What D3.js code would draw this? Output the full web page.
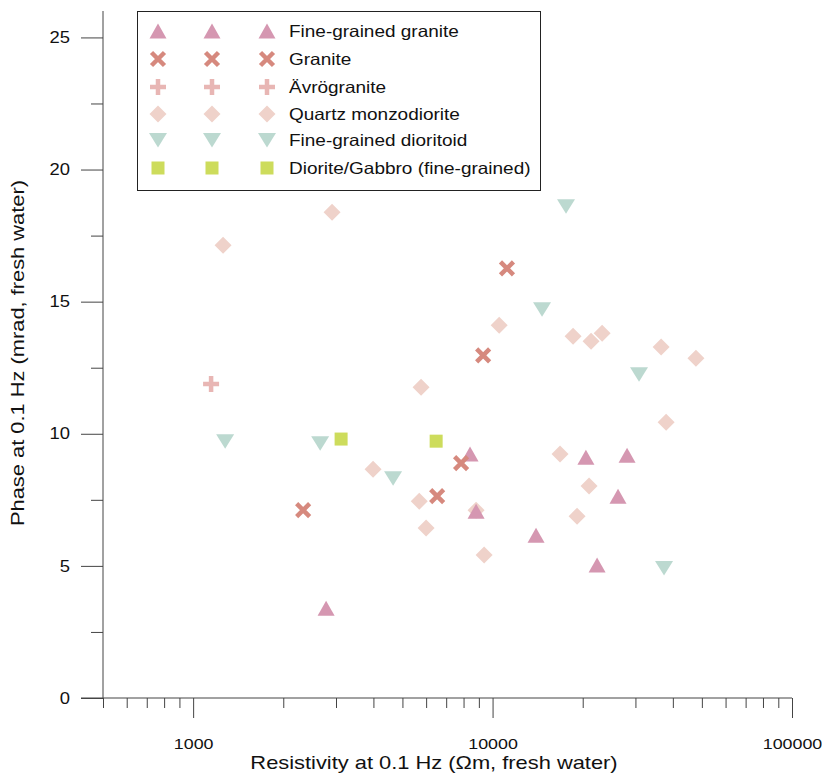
<!DOCTYPE html>
<html>
<head>
<meta charset="utf-8">
<script src="https://cdn.jsdelivr.net/npm/d3@7"></script>
<style>
  html, body { margin: 0; padding: 0; background: #fff; }
  svg { display: block; font-family: "Liberation Sans", Arial, sans-serif; }
</style>
</head>
<body>
<svg id="chart" width="822" height="782"></svg>
<script>
// Rock-type samples: resistivity (Ωm) and phase (mrad) at 0.1 Hz, fresh water
const fineGrainedGranite = [
  [2780, 3.40], [8410, 9.23], [8810, 7.07], [13970, 6.16],
  [20500, 9.11], [22340, 5.03], [26240, 7.64], [28130, 9.19]
];
const granite = [
  [2330, 7.11], [6530, 7.64], [7850, 8.89], [9300, 12.97], [11170, 16.26]
];
const avrogranite = [
  [1148, 11.88]
];
const quartzMonzodiorite = [
  [1259, 17.13], [2911, 18.38], [5770, 11.76], [3990, 8.66], [5690, 7.45],
  [5998, 6.43], [8810, 7.11], [9370, 5.41], [10520, 14.11], [16800, 9.23],
  [18570, 13.69], [19150, 6.88], [21000, 8.02], [21330, 13.50], [23220, 13.80],
  [36560, 13.28], [37980, 10.44], [47770, 12.86]
];
const fineGrainedDioritoid = [
  [1279, 9.72], [2656, 9.64], [4653, 8.32], [14630, 14.71],
  [17590, 18.61], [30840, 12.25], [37380, 4.92]
];
const dioriteGabbro = [
  [3120, 9.80], [6480, 9.72]
];

const seriesNames = [
  "Fine-grained granite", "Granite", "Ävrögranite",
  "Quartz monzodiorite", "Fine-grained dioritoid", "Diorite/Gabbro (fine-grained)"
];
const xMajorTicks = [1000, 10000, 100000];
const yMajorTicks = [0, 5, 10, 15, 20, 25];
const yMinorTicks = [2.5, 7.5, 12.5, 17.5, 22.5];

const xTitle = "Resistivity at 0.1 Hz (Ωm, fresh water)";
const yTitle = "Phase at 0.1 Hz (mrad, fresh water)";

// Marker shapes, each centred on its bounding box
const shapes = {
  triUp: (g, c) => g.append("path").attr("d", "M0,-7.5 L8.5,7.5 L-8.5,7.5 Z").attr("fill", c),
  cross: (g, c) => g.append("path").attr("d", "M-6.5,-6.5 L6.5,6.5 M6.5,-6.5 L-6.5,6.5")
    .attr("stroke", c).attr("stroke-width", 4.5).attr("fill", "none"),
  plus: (g, c) => g.append("path").attr("d", "M-8,0 L8,0 M0,-8 L0,8")
    .attr("stroke", c).attr("stroke-width", 4.5).attr("fill", "none"),
  diamond: (g, c) => g.append("path").attr("d", "M0,-8.5 L8.5,0 L0,8.5 L-8.5,0 Z").attr("fill", c),
  triDown: (g, c) => g.append("path").attr("d", "M-9,-7 L9,-7 L0,7.5 Z").attr("fill", c),
  square: (g, c) => g.append("rect").attr("x", -6.5).attr("y", -6.5)
    .attr("width", 13).attr("height", 13).attr("fill", c)
};

const series = [
  { name: seriesNames[0], data: fineGrainedGranite,   shape: "triUp",   color: "#d597b1" },
  { name: seriesNames[1], data: granite,              shape: "cross",   color: "#d6897e" },
  { name: seriesNames[2], data: avrogranite,          shape: "plus",    color: "#e8b6b4" },
  { name: seriesNames[3], data: quartzMonzodiorite,   shape: "diamond", color: "#efd2ca" },
  { name: seriesNames[4], data: fineGrainedDioritoid, shape: "triDown", color: "#bcd9d0" },
  { name: seriesNames[5], data: dioriteGabbro,        shape: "square",  color: "#cddc5c" }
];

const svg = d3.select("#chart");
const axisColor = "#444";
const textStretch = 1.15; // text is set slightly wide along its baseline

const x = d3.scaleLog().domain([500, 100000]).range([103, 792]);
const y = d3.scaleLinear().domain([0, 26]).range([698, 11]);

// Y axis: labelled major ticks plus short unlabelled half-steps
const yAxisG = svg.append("g").attr("transform", `translate(${x.range()[0]},0)`);
yAxisG.call(d3.axisLeft(y).tickValues(yMajorTicks).tickSize(22).tickPadding(11)
  .tickFormat(d3.format("d")));
yAxisG.append("g").call(d3.axisLeft(y).tickValues(yMinorTicks).tickSize(12).tickFormat(""))
  .select(".domain").remove();
yAxisG.selectAll(".tick text").style("font-size", "16px");

// X axis: decades labelled, intermediate log ticks shorter
const xMinor = [];
[100, 1000, 10000].forEach(b => { for (let k = 2; k <= 9; k++) { const v = b * k; if (v >= 500) xMinor.push(v); } });
const xAxisG = svg.append("g").attr("transform", `translate(0,${y(0)})`);
xAxisG.call(d3.axisBottom(x).tickValues(xMajorTicks).tickSize(20).tickPadding(20)
  .tickFormat(d3.format("d")));
xAxisG.append("g").call(d3.axisBottom(x).tickValues(xMinor).tickSize(10).tickFormat(""))
  .select(".domain").remove();
xAxisG.selectAll(".tick text").style("font-size", "15.5px");

svg.selectAll(".domain").attr("stroke", axisColor);
yAxisG.select(".domain").attr("d", `M0,${y.range()[1]}V${y(0)}`);
xAxisG.select(".domain").attr("d", `M${x.range()[0] - 22},0H${x.range()[1]}`);
svg.selectAll(".tick line").attr("stroke", axisColor);
svg.selectAll(".tick text").attr("fill", "#111")
  .style("font-family", "'Liberation Sans', Arial, sans-serif");

// Axis titles
svg.append("text").attr("x", 434).attr("y", 769).attr("text-anchor", "middle")
  .style("font-size", "19px").attr("fill", "#111").text(xTitle);
svg.append("text").attr("transform", "translate(24,353) rotate(-90)")
  .attr("text-anchor", "middle").style("font-size", "19px").attr("fill", "#111").text(yTitle);

// Data markers; diamonds first so the other marks sit above them
const drawOrder = [3, 4, 5, 2, 0, 1];
drawOrder.forEach(i => {
  const s = series[i];
  s.data.forEach(([vx, vy]) => {
    const g = svg.append("g").attr("transform", `translate(${x(vx)},${y(vy)})`);
    shapes[s.shape](g, s.color);
  });
});

// Legend
const legend = svg.append("g");
legend.append("rect").attr("x", 137.5).attr("y", 11.5).attr("width", 403).attr("height", 179)
  .attr("fill", "#fff").attr("stroke", "#222").attr("stroke-width", 1);
const rowY = [31, 59, 87, 114, 140, 168];
const colX = [158, 212, 267];
series.forEach((s, i) => {
  colX.forEach(cx => {
    const g = legend.append("g").attr("transform", `translate(${cx},${rowY[i]})`);
    shapes[s.shape](g, s.color);
  });
  legend.append("text").attr("x", 289).attr("y", rowY[i]).attr("dy", "0.36em")
    .style("font-size", "16.5px").attr("fill", "#111").text(s.name);
});

// Widen every label along its baseline
svg.selectAll("text").each(function () {
  const len = this.getComputedTextLength();
  d3.select(this).attr("textLength", len * textStretch).attr("lengthAdjust", "spacingAndGlyphs");
});
</script>
</body>
</html>
